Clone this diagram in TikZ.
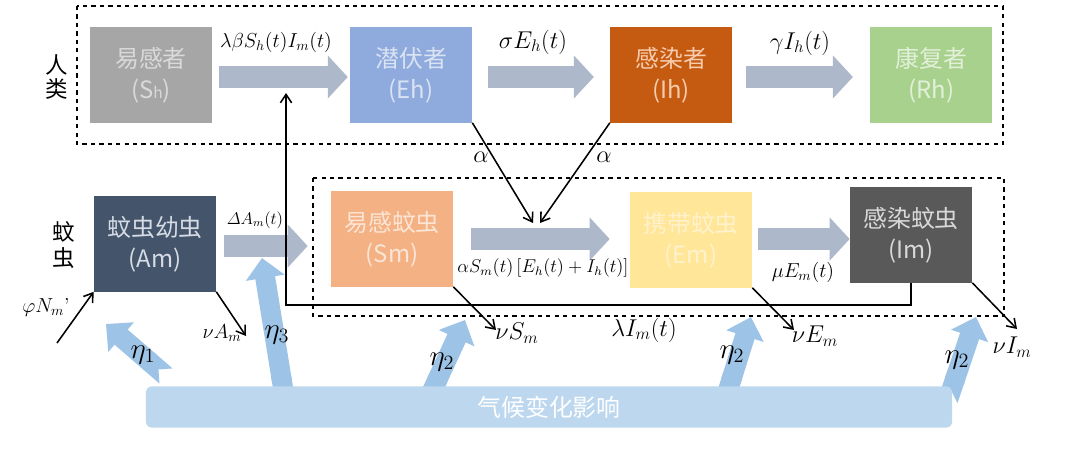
\documentclass[tikz,border=0pt]{standalone}
\usepackage{fontspec}
\newfontfamily\cjk{Noto Sans CJK SC}
\usetikzlibrary{positioning,arrows.meta,calc}

\definecolor{shgray}{HTML}{A6A6A6}
\definecolor{shtext}{HTML}{D9D9D9}
\definecolor{ehblue}{HTML}{8FAADC}
\definecolor{ehtext}{HTML}{DAE3F3}
\definecolor{ihorange}{HTML}{C55A11}
\definecolor{ihtext}{HTML}{F8CBAD}
\definecolor{rhgreen}{HTML}{A9D18E}
\definecolor{rhtext}{HTML}{E2F0D9}
\definecolor{amnavy}{HTML}{44546A}
\definecolor{amtext}{HTML}{D6DCE5}
\definecolor{smorange}{HTML}{F4B183}
\definecolor{smtext}{HTML}{FBE5D6}
\definecolor{emyellow}{HTML}{FFE699}
\definecolor{emtext}{HTML}{FFF2CC}
\definecolor{imgray}{HTML}{595959}
\definecolor{imtext}{HTML}{D9D9D9}
\definecolor{arrgray}{HTML}{ADB9CA}
\definecolor{barblue}{HTML}{BDD7EE}
\definecolor{etablue}{HTML}{9DC3E6}

\tikzstyle{box} = [rectangle, minimum width=3.05cm, minimum height=2.375cm, inner sep=0pt, align=center, font=\cjk\fontsize{17}{22}\selectfont]
\tikzstyle{fat} = [draw=arrgray, line width=0.55cm, -{Triangle[length=0.5cm,width=1.05cm]}]
\tikzstyle{etaarrow} = [draw=etablue, line width=0.5cm, {Triangle Cap[reversed]}-{Triangle[length=0.5cm,width=0.95cm]}]
\tikzstyle{arrow} = [line width=1.1pt, -{Straight Barb[length=6pt,width=8pt]}]
\tikzstyle{frame} = [thick, dashed]
\tikzstyle{lab} = [inner sep=0pt, font=\fontsize{17.28}{19}\selectfont]
\tikzstyle{mlab} = [inner sep=0pt, font=\fontsize{14.4}{16}\selectfont]
\tikzstyle{slab} = [inner sep=0pt, font=\fontsize{12}{14}\selectfont]
\tikzstyle{etalab} = [inner sep=0pt, font=\fontsize{20.74}{22}\selectfont]
\tikzstyle{side} = [inner sep=0pt, font=\cjk\fontsize{16}{20}\selectfont]

\begin{document}
\begin{tikzpicture}[x=0.025cm, y=-0.025cm, node distance=6.5cm]
\useasboundingbox (0,0) rectangle (1072,448);

% humans
\node (Sh) [box, fill=shgray, text=shtext] at (151,75) {易感者\\(S{\fontsize{11}{11}\selectfont h})};
\node (Eh) [box, fill=ehblue, text=ehtext, right of=Sh] {潜伏者\\(Eh)};
\node (Ih) [box, fill=ihorange, text=ihtext, right of=Eh] {感染者\\(Ih)};
\node (Rh) [box, fill=rhgreen, text=rhtext, right of=Ih] {康复者\\(Rh)};
\draw[frame] (77,6) rectangle (1003,144);
\node (ren) [side] at (57,65) {人};
\node (lei) [side] at (57,89) {类};

% mosquitoes
\node (Am) [box, fill=amnavy, text=amtext] at (155,244) {蚊虫幼虫\\(Am)};
\node (Sm) [box, fill=smorange, text=smtext] at (392,239) {易感蚊虫\\(Sm)};
\node (Em) [box, fill=emyellow, text=emtext] at (691,240) {携带蚊虫\\(Em)};
\node (Im) [box, fill=imgray, text=imtext] at (911,235) {感染蚊虫\\(Im)};
\draw[frame] (313,178) rectangle (1004,316);
\node (wen) [side] at (64,232) {蚊};
\node (chong) [side] at (64,258) {虫};

% flows
\draw[fat] ($(Sh.east)+(7,2)$) -- ($(Eh.west)+(-2,2)$);
\draw[fat] ($(Eh.east)+(16,2)$) -- ($(Ih.west)+(-16,2)$);
\draw[fat] ($(Ih.east)+(14,2)$) -- ($(Rh.west)+(-17,2)$);
\draw[fat] ($(Am.east)+(8,2)$) -- ($(Sm.west|-Am.east)+(-23,2)$);
\draw[fat] ($(Sm.east)+(18,0)$) -- ($(Em.west|-Sm.east)+(-20,0)$);
\draw[fat] ($(Em.east)+(6,-1)$) -- ($(Im.west|-Em.east)+(0,-1)$);

\node (l1) [mlab] at (276,42) {$\lambda\beta S_h(t)I_m(t)$};
\node (l2) [lab] at (533,42) {$\sigma E_h(t)$};
\node (l3) [lab] at (800,43) {$\gamma I_h(t)$};
\node (l4) [slab] at (255,220) {$\mathnormal{\Delta} A_m(t)$};
\node (l5) [slab, scale=1.1, transform shape] at (543,268) {$\alpha S_m(t)\,[E_h(t)+I_h(t)]$};
\node (l6) [mlab] at (803,272) {$\mu E_m(t)$};

% infection
\coordinate (aL) at (533,223);
\coordinate (aR) at (540,223);
\draw[arrow] (Eh.south east) -- (aL);
\draw[arrow] (Ih.south west) -- (aR);
\node (al1) [lab] at (481,157) {$\alpha$};
\node (al2) [lab] at (604,157) {$\alpha$};

\coordinate (lamC) at (286,305);
\coordinate (lamT) at (286,93);
\draw[arrow] (Im.south) |- (lamC) -- (lamT);
\node (l7) [lab] at (644,330) {$\lambda I_m(t)$};

% births and deaths
\coordinate (phiS) at (57,343);
\coordinate (dA) at (246,336);
\coordinate (dS) at (496,330);
\coordinate (dE) at (794,330);
\coordinate (dI) at (1017,329);
\draw[arrow] (phiS) -- (Am.south west);
\draw[arrow] (Am.south east) -- (dA);
\draw[arrow] (Sm.south east) -- (dS);
\draw[arrow] (Em.south east) -- (dE);
\draw[arrow] (Im.south east) -- (dI);
\node (n1) [mlab] at (46,307) {$\varphi N_m$’};
\node (n2) [mlab] at (222,333) {$\nu A_m$};
\node (n3) [lab] at (517,333) {$\nu S_m$};
\node (n4) [lab] at (815,336) {$\nu E_m$};
\node (n5) [lab] at (1012,347) {$\nu I_m$};

% climate
\draw[etaarrow] (166,376) -- (106,324);
\draw[etaarrow] (285,400) -- (262,258);
\draw[etaarrow] (428,400) -- (465,320);
\draw[etaarrow] (725,400) -- (751,317);
\draw[etaarrow] (948,400) -- (976,317);
\node (clim) [rounded corners=0.15cm, fill=barblue, minimum width=20.15cm, minimum height=1.03cm, text=white, font=\cjk\fontsize{17}{20}\selectfont] at (549,407) {气候变化影响};
\node (e1) [etalab] at (143,355) {$\eta_1$};
\node (e3) [etalab] at (277,335) {$\eta_3$};
\node (e2a) [etalab] at (442,362) {$\eta_2$};
\node (e2b) [etalab] at (732,355) {$\eta_2$};
\node (e2c) [etalab] at (957,360) {$\eta_2$};
\end{tikzpicture}
\end{document}
